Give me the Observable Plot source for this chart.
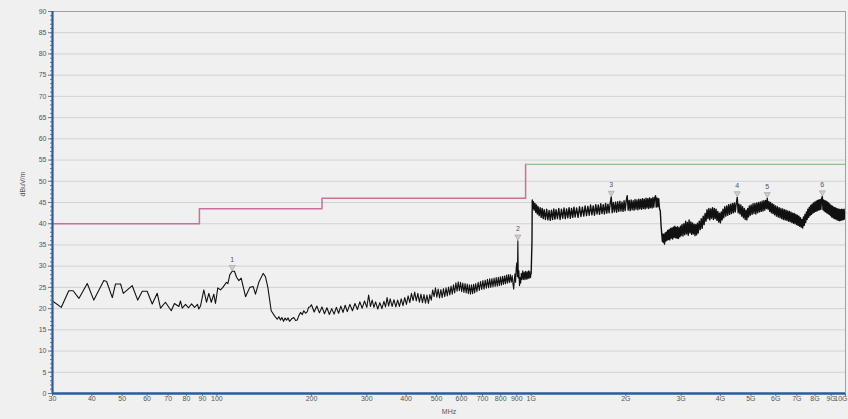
<!DOCTYPE html>
<html><head><meta charset="utf-8">
<script src="https://cdn.jsdelivr.net/npm/d3@7"></script>
<script src="https://cdn.jsdelivr.net/npm/@observablehq/plot@0.6"></script>
<style>body{margin:0;background:#f0f0f0;}</style>
</head><body><div id="chart"></div>
<script>
// Tick values and labels
const xTicks = [30,40,50,60,70,80,90,100,200,300,400,500,600,700,800,900,1000,2000,3000,4000,5000,6000,7000,8000,9000,10000];
const xTickLabels = ["30","40","50","60","70","80","90","100","200","300","400","500","600","700","800","900","1G","2G","3G","4G","5G","6G","7G","8G","9G","10G"];
const yTicks = [0,5,10,15,20,25,30,35,40,45,50,55,60,65,70,75,80,85,90];
const yMinorTicks = d3.range(0, 91, 1);

// Limit lines [MHz, dBuV/m]
const limitBelow1G = [[30,40],[88,40],[88,43.5],[216,43.5],[216,46],[960,46],[960,54]];
const limitAbove1G = [[960,54],[10000,54]];

// Measured trace, 30 MHz - 1 GHz [MHz, dBuV/m]
const scan30M1G = [
[30,21.8],[32,20.3],[33.8,24.2],[34.9,24.2],[36.4,22.4],[38.7,25.9],[40.6,22.0],[43.7,26.6],[44.6,26.4],[46.5,22.6],
[47.6,25.8],[49.4,25.8],[50.4,23.6],[53.8,25.4],[56.0,22.0],[57.9,24.1],[60.0,24.1],[62.3,21.1],[64.6,23.6],[66.2,20.1],
[68.6,21.5],[71.6,19.5],[73.3,21.2],[75.7,20.5],[76.6,21.8],[77.6,20.1],[79.5,21.0],[81.3,20.2],[83.1,21.1],[84.9,20.3],
[86.8,21.0],[87.6,19.9],[88.7,20.6],[90.9,24.4],[92.7,21.5],[94.3,23.6],[96.0,21.5],[97.8,23.4],[99.0,21.2],[100.7,24.9],
[102.7,24.4],[104.5,25.0],[107.3,26.2],[108.4,25.9],[110.0,28.0],[111.9,28.8],[113.8,28.8],[115.5,27.4],[117.5,26.6],[119.5,27.2],
[123.4,22.8],[127.3,25.0],[130.5,25.2],[132.7,23.4],[136.0,26.2],[140.4,28.3],[142.8,27.5],[145.3,25.0],[148.9,19.5],[152.6,18.3],
[155.6,17.5],[157.5,18.1],[159.4,17.3],[161,17.9],[163.0,17.0],[164.8,17.8],[166.6,17.3],[168.5,17.8],[170.3,17.0],[173,17.6],[175.7,17.9],[178,17.2],[180.2,17.3],
[182.4,18.4],[184.6,19.1],[187,18.6],[189.1,19.5],[191.5,18.9],[193.9,19.3],[195.8,20.3],[197.6,20.4],
[200,20.9],[204,19.2],[208,20.6],[212,19.0],[216,20.4],[220,18.8],[224,20.2],[228,18.6],[232,20.0],[236,18.7],[240,20.3],[244,18.9],
[248,20.6],[252,19.1],[256,20.8],[260,19.3],[265,21.0],[270,19.5],[275,21.2],[280,19.8],[285,21.6],[290,20.1],[295,21.8],[300,20.3],
[304,23.2],[308,20.5],[312,22.0],[316,20.3],[320,21.6],[325,19.9],[330,21.4],[335,20.0],[340,21.7],[344,20.4],[348,22.6],[352,20.6],
[356,22.3],[361,20.5],[366,22.1],[371,20.4],[376,22.0],[381,20.5],[386,22.3],[391,20.7],[396,22.6],[401,21.0],[406,23.0],[411,21.4],
[416,23.6],[421,21.9],[426,23.9],[431,21.8],[436,23.6],[441,21.5],[446,23.4],[451,21.4],[456,23.3],[461,21.3],[466,23.2],[471,21.2],
[476,23.3],[481,22.0],[486,24.4],[491,22.8],[496,24.9],[501,22.7],[506,24.6],[511,22.5],[516,24.5],[521,22.6],[526,24.7],[531,22.8],
[536,24.9],[541,23.0],[546,25.1],[551,23.2],[556,25.3],[561,23.4],[566,25.6],[571,23.7],[576,26.1],[581,24.1],[586,26.3],[591,24.2],
[596,26.2],[601,24.0],[606,26.0],[611,23.8],[616,25.9],[621,23.7],[626,25.8],[631,23.5],[636,25.6],[641,23.4],[646,25.6],[651,23.5],
[656,25.7],[661,23.7],[666,25.9],[672,24.0],[678,26.2],[684,24.3],[690,26.4],[696,24.5],[702,26.6],[708,24.6],[714,26.7],[720,24.8],
[726,26.9],[732,24.9],[738,27.0],[744,25.0],[750,27.1],[756,25.1],[762,27.2],[768,25.2],[774,27.3],[780,25.3],[786,27.4],[792,25.4],
[798,27.5],[804,25.5],[810,27.6],[816,25.7],[822,27.7],[828,25.8],[834,27.9],[840,26.0],[846,28.0],[852,26.1],[858,28.0],[864,26.2],
[870,27.8],[876,25.6],[880,24.6],[884,26.8],[888,28.2],[892,26.2],[896,29.5],[900,30.8],[904,27.6],[907,36.0],[910,27.2],[914,28.9],
[918,25.4],[922,27.3],[926,26.0],[930,28.3],[935,26.8],[940,28.9],[945,26.9],[950,28.6],[955,26.8],[960,28.8],[965,26.9],[970,28.7],
[975,27.0],[980,28.9],[985,27.1],[990,28.8],[995,27.3],[1000,28.4]
];

// Measured trace, 1 GHz - 10 GHz [MHz, dBuV/m]
const scan1G10G = [
[1000,28.4],[1006,36],[1008,45.6],[1012,43.6],[1016,45.2],[1022,43.2],[1028,44.8],[1034,42.7],[1040,44.4],[1046,42.3],[1052,44.0],[1060,41.9],
[1068,43.8],[1076,41.5],[1084,43.6],[1092,41.2],[1100,43.3],[1110,41.0],[1120,43.4],[1130,40.9],[1140,43.1],[1150,40.8],[1160,43.2],[1170,41.0],
[1180,43.5],[1190,41.1],[1200,43.3],[1212,41.2],[1224,43.6],[1236,41.0],[1248,43.4],[1260,41.3],[1272,43.7],[1284,41.2],[1296,43.5],[1308,41.4],
[1320,43.8],[1332,41.3],[1344,43.6],[1356,41.5],[1368,43.9],[1380,41.6],[1395,43.7],[1410,41.5],[1425,44.0],[1440,41.7],[1455,43.9],[1470,41.8],
[1485,44.2],[1500,41.9],[1515,44.1],[1530,42.0],[1545,44.4],[1560,42.1],[1575,44.2],[1590,42.0],[1605,44.5],[1620,42.3],[1635,44.4],[1650,42.2],
[1665,44.7],[1680,42.4],[1695,44.5],[1710,42.3],[1725,44.8],[1740,42.5],[1755,44.6],[1770,42.6],[1785,44.9],[1798,46.3],[1810,42.6],[1825,45.0],
[1840,42.8],[1855,45.1],[1870,42.7],[1885,45.2],[1900,42.9],[1915,45.3],[1930,43.0],[1945,45.1],[1960,42.9],[1975,45.4],[1990,43.1],[2005,45.3],
[2021,46.6],[2035,43.2],[2050,45.5],[2065,43.1],[2080,45.6],[2095,43.3],[2110,45.4],[2125,43.2],[2140,45.7],[2155,43.4],[2170,45.6],[2185,43.3],
[2200,45.8],[2215,43.5],[2230,45.7],[2245,43.4],[2260,45.9],[2275,43.6],[2290,45.8],[2305,43.5],[2320,46.0],[2335,43.7],[2350,45.9],[2365,43.6],
[2380,46.1],[2395,43.8],[2410,45.9],[2425,43.7],[2440,46.2],[2455,43.9],[2470,46.0],[2487,46.6],[2500,43.9],[2515,46.1],[2530,44.0],[2545,45.9],
[2560,43.6],[2575,43.0],[2590,39.5],[2605,37.2],[2615,35.8],[2625,37.6],[2635,35.6],[2645,37.4],[2656,35.2],[2668,37.8],[2680,35.9],[2692,38.0],
[2705,36.1],[2718,38.4],[2730,36.3],[2745,38.6],[2760,36.2],[2775,38.9],[2790,36.6],[2805,39.0],[2820,36.4],[2835,39.2],[2850,36.8],[2865,39.4],
[2880,36.7],[2895,39.1],[2910,36.6],[2925,39.3],[2940,36.5],[2955,39.0],[2970,36.9],[2985,39.4],[3000,37.2],[3020,39.8],[3040,37.1],[3060,40.0],
[3080,37.4],[3100,40.6],[3120,37.6],[3140,40.3],[3160,37.3],[3180,40.9],[3200,37.8],[3220,40.4],[3240,37.5],[3260,40.2],[3280,37.6],[3300,39.9],
[3320,37.2],[3340,39.8],[3360,37.4],[3380,40.1],[3400,37.8],[3425,40.6],[3450,38.6],[3475,41.2],[3500,38.9],[3525,41.8],[3550,39.8],[3575,42.4],
[3600,40.6],[3625,43.3],[3650,41.2],[3675,43.6],[3700,40.9],[3725,43.5],[3750,41.3],[3775,43.8],[3800,41.0],[3825,43.6],[3850,41.2],[3875,43.4],
[3900,40.8],[3925,42.9],[3950,40.4],[3975,42.5],[4000,40.2],[4025,42.8],[4050,40.9],[4075,43.4],[4100,41.4],[4130,44.0],[4160,41.8],[4190,44.2],
[4220,42.0],[4250,44.5],[4280,42.2],[4310,44.6],[4340,42.4],[4370,44.8],[4400,42.6],[4430,44.9],[4460,42.8],[4490,44.7],[4525,46.2],[4555,42.6],
[4585,44.6],[4615,42.3],[4645,44.4],[4675,41.8],[4705,44.0],[4735,41.4],[4765,43.6],[4795,41.0],[4825,43.2],[4855,40.9],[4885,43.6],[4915,41.6],
[4945,44.2],[4975,42.0],[5010,44.4],[5045,42.2],[5080,44.7],[5115,42.4],[5150,44.8],[5185,42.3],[5220,44.9],[5255,42.6],[5290,45.0],[5325,42.8],
[5360,45.1],[5395,42.9],[5430,45.3],[5465,43.0],[5500,45.4],[5535,43.2],[5570,45.5],[5605,43.6],[5638,46.0],[5670,43.4],[5705,45.2],[5740,42.9],
[5775,45.0],[5810,42.6],[5845,44.7],[5880,42.4],[5915,44.5],[5950,42.1],[5990,44.2],[6030,41.8],[6070,44.0],[6110,41.6],[6150,43.8],[6190,41.4],
[6230,43.6],[6270,41.2],[6310,43.5],[6350,41.0],[6390,43.3],[6430,40.9],[6470,43.2],[6510,40.8],[6550,43.0],[6590,40.6],[6630,42.9],[6670,40.5],
[6710,42.7],[6750,40.3],[6790,42.5],[6830,40.1],[6870,42.4],[6910,40.0],[6950,42.2],[6990,39.8],[7030,42.0],[7070,39.6],[7110,41.8],[7150,39.4],
[7190,41.4],[7230,39.2],[7270,41.0],[7310,39.0],[7350,41.6],[7390,39.6],[7430,42.2],[7470,40.3],[7510,42.8],[7550,41.0],[7590,43.4],[7630,41.5],
[7670,43.9],[7710,41.9],[7750,44.3],[7790,42.2],[7830,44.6],[7870,42.5],[7910,44.9],[7950,42.7],[7990,45.1],[8030,42.9],[8070,45.3],[8110,43.0],
[8150,45.5],[8190,43.2],[8230,45.6],[8270,43.3],[8310,45.7],[8350,43.4],[8390,45.8],[8437,46.4],[8480,43.3],[8520,45.6],[8560,43.0],[8600,45.4],
[8640,42.8],[8680,45.3],[8720,42.6],[8760,45.1],[8800,42.4],[8840,44.9],[8880,42.2],[8920,44.6],[8960,41.9],[9000,44.3],[9045,41.6],[9090,44.1],
[9135,41.4],[9180,43.9],[9225,41.2],[9270,43.8],[9315,41.1],[9360,43.6],[9405,40.9],[9450,43.5],[9495,40.8],[9540,43.4],[9585,40.7],[9630,43.3],
[9675,40.8],[9720,43.4],[9765,40.9],[9810,43.3],[9855,41.0],[9900,43.4],[9945,41.1],[10000,42.6]
];

// Peak markers
const markerFreq = [111.9, 907, 1798, 4525, 5638, 8437];
const markerLevel = [28.8, 36.0, 46.3, 46.2, 46.0, 46.4];
const markerLabel = ["1","2","3","4","5","6"];
const markers = markerFreq.map((f,i)=>({f, v: markerLevel[i], label: markerLabel[i]}));

const labelOf = new Map(xTicks.map((t,i)=>[t, xTickLabels[i]]));
const lastTick = xTicks[xTicks.length - 1];
const axisBlue = "#2a5c9e";

const chart = Plot.plot({
  width: 848, height: 419,
  marginLeft: 52, marginRight: 3, marginTop: 11, marginBottom: 26,
  style: {background: "#f0f0f0", fontFamily: "Liberation Sans, Arial, sans-serif", fontSize: "7px", color: "#555"},
  x: {type: "log", domain: [30, 10000], axis: null},
  y: {domain: [0, 90], axis: null},
  marks: [
    Plot.gridY(yTicks, {stroke: "#d2d2d2", strokeOpacity: 1}),
    Plot.line(limitBelow1G, {x: d=>d[0], y: d=>d[1], stroke: "#cc6f9c", strokeWidth: 1.5}),
    Plot.line(limitAbove1G, {x: d=>d[0], y: d=>d[1], stroke: "#8fbf8c", strokeWidth: 1.3}),
    Plot.line(scan30M1G, {x: d=>d[0], y: d=>d[1], stroke: "#111", strokeWidth: 1.1}),
    Plot.line(scan1G10G, {x: d=>d[0], y: d=>d[1], stroke: "#111", strokeWidth: 1.4}),
    Plot.dot(markers, {x: "f", y: "v", dy: -4, symbol: "triangle", rotate: 180, r: 2.2, fill: "#cfcfcf", stroke: "#9a9a9a", strokeWidth: 0.6}),
    Plot.text(markers, {x: "f", y: "v", text: "label", dy: -12, fill: "#4e5270", fontSize: 7}),
    Plot.frame({stroke: "#a0a0a0"}),
    Plot.axisY(yMinorTicks, {tickSize: 2, fill: "none", stroke: "#6a7a90", label: null}),
    Plot.axisY(yTicks, {tickSize: 4, tickPadding: 2, fontSize: 7, fill: "#555", stroke: "#6a7a90", label: null}),
    Plot.axisX(xTicks, {tickSize: 3, fill: "none", stroke: "#6a7a90", label: null}),
    Plot.text(xTicks.filter(t => t !== lastTick), {x: d => d, frameAnchor: "bottom", dy: 7, text: d => labelOf.get(d), fontSize: 7, fill: "#555"}),
    Plot.text([lastTick], {x: d => d, frameAnchor: "bottom", dy: 7, dx: 2, textAnchor: "end", text: d => labelOf.get(d), fontSize: 7, fill: "#555"}),
    Plot.ruleX([30], {stroke: axisBlue, strokeWidth: 2.2}),
    Plot.ruleY([0], {stroke: axisBlue, strokeWidth: 2.5}),
    Plot.text(["dBuV/m"], {frameAnchor: "left", dx: -30, dy: -6, rotate: -90, fontSize: 7, fill: "#555"}),
    Plot.text(["MHz"], {frameAnchor: "bottom", dy: 20, fontSize: 7, fill: "#555"})
  ]
});
document.getElementById("chart").appendChild(chart);
</script>
</body></html>
